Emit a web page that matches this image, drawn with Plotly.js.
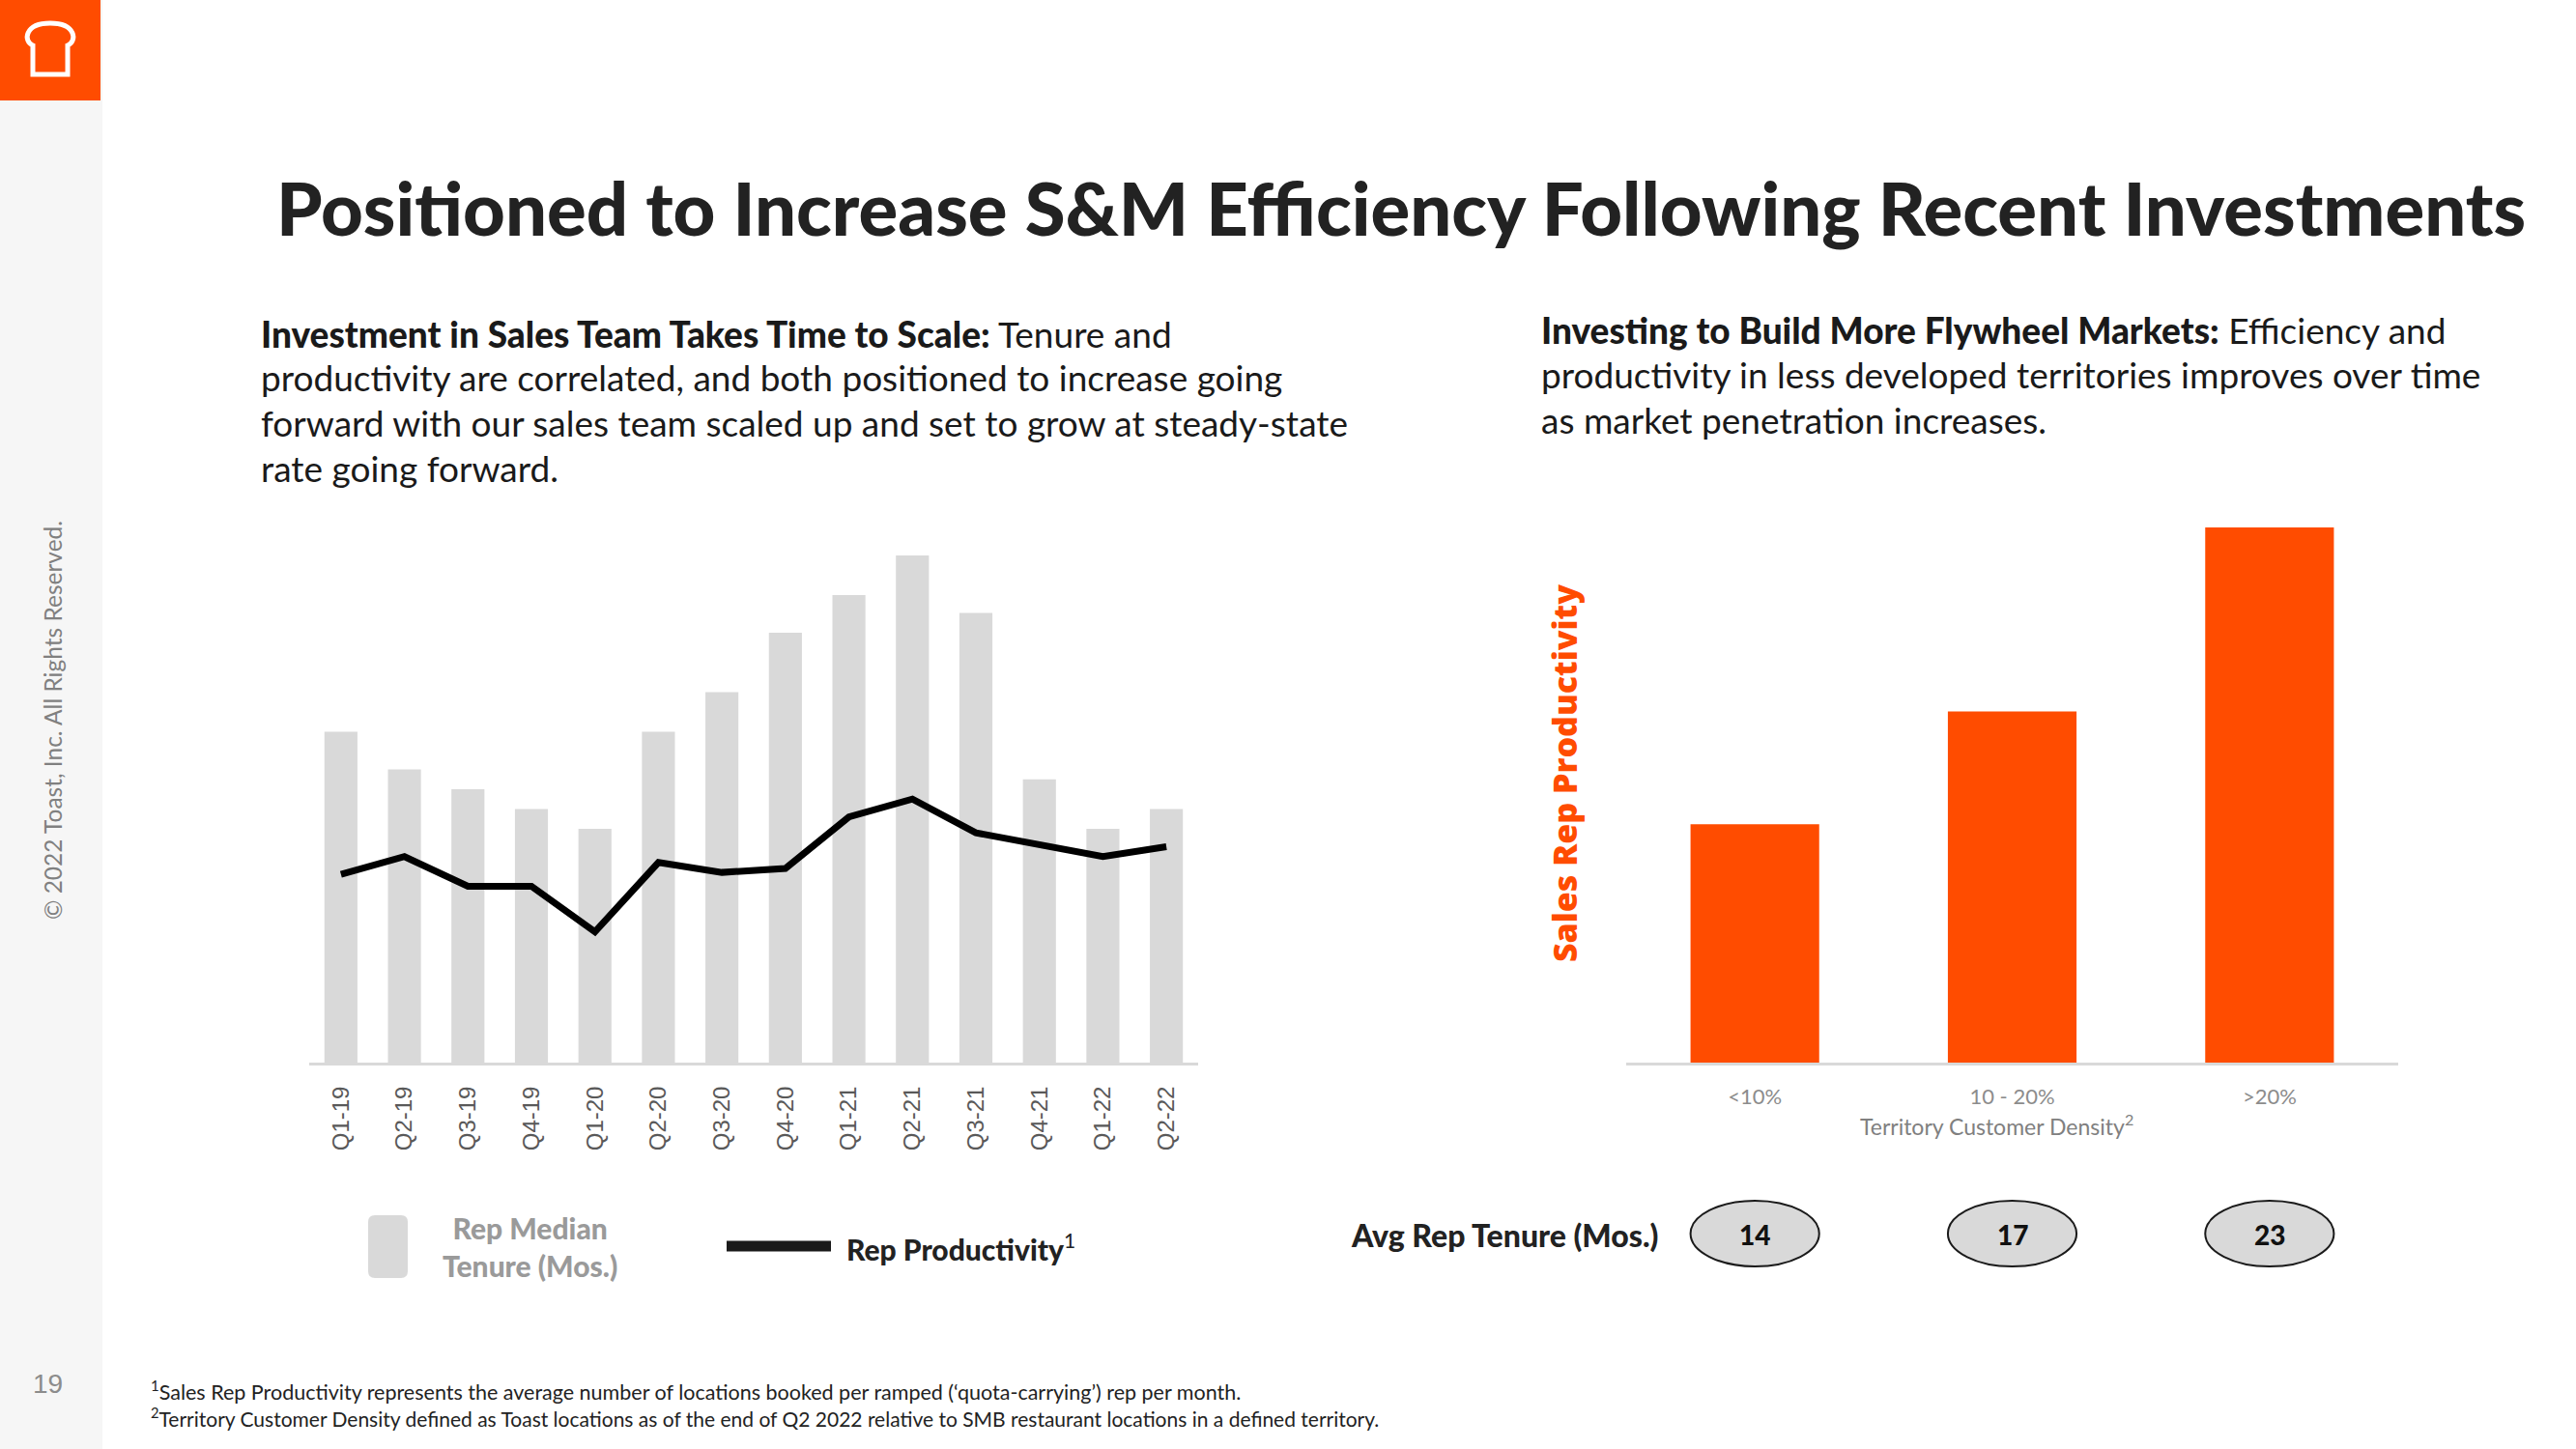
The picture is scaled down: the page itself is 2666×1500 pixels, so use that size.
<!DOCTYPE html>
<html>
<head>
<meta charset="utf-8">
<script src="https://cdn.plot.ly/plotly-3.0.1.min.js"></script>
<style>
  html, body { margin: 0; padding: 0; background: #ffffff; }
  #chart { width: 2666px; height: 1500px; }
</style>
</head>
<body>
<div id="chart"></div>
<script>
// ---------------- DATA ----------------
const quarters = ['Q1-19','Q2-19','Q3-19','Q4-19','Q1-20','Q2-20','Q3-20','Q4-20','Q1-21','Q2-21','Q3-21','Q4-21','Q1-22','Q2-22'];
const repMedianTenure = [16.7, 14.8, 13.8, 12.8, 11.8, 16.7, 18.7, 21.7, 23.6, 25.6, 22.7, 14.3, 11.8, 12.8];
const repProductivity = [9.5, 10.4, 8.9, 8.9, 6.6, 10.1, 9.6, 9.8, 12.4, 13.3, 11.6, 11.0, 10.4, 10.9];

const densityBands = ['<10%', '10 - 20%', '>20%'];
const salesRepProductivity = [5.7, 8.4, 12.8];
const avgRepTenure = [14, 17, 23];

// ---------------- HELPERS ----------------
const W = 2666, H = 1500;
const px = x => x / W;
const py = y => 1 - y / H;
const ORANGE = '#FF4C00';
const BODY = 'Lato, "Noto Sans", sans-serif';
const heavy = t => '<span style="font-weight:900">' + t + '</span>';

function roundRectPath(x0, y0, x1, y1, r) {
  const p = (x, y) => px(x).toFixed(5) + ',' + py(y).toFixed(5);
  return 'M' + p(x0 + r, y0) + ' L' + p(x1 - r, y0) + ' Q' + p(x1, y0) + ' ' + p(x1, y0 + r) +
         ' L' + p(x1, y1 - r) + ' Q' + p(x1, y1) + ' ' + p(x1 - r, y1) +
         ' L' + p(x0 + r, y1) + ' Q' + p(x0, y1) + ' ' + p(x0, y1 - r) +
         ' L' + p(x0, y0 + r) + ' Q' + p(x0, y0) + ' ' + p(x0 + r, y0) + ' Z';
}
function toastPath() {
  const p = (x, y) => px(x).toFixed(5) + ',' + py(y).toFixed(5);
  return 'M' + p(34, 77) + ' L' + p(34, 47) +
         ' C' + p(24, 43) + ' ' + p(25, 24) + ' ' + p(52, 24) +
         ' C' + p(79, 24) + ' ' + p(80, 43) + ' ' + p(70, 47) +
         ' L' + p(70, 77) + ' Z';
}

// ---------------- TRACES ----------------
const traces = [
  {
    type: 'bar', x: quarters, y: repMedianTenure, xaxis: 'x', yaxis: 'y', width: 0.52,
    marker: { color: '#D9D9D9' }, name: 'Rep Median Tenure (Mos.)', hoverinfo: 'skip'
  },
  {
    type: 'scatter', mode: 'lines', x: quarters, y: repProductivity, xaxis: 'x', yaxis: 'y',
    line: { color: '#000000', width: 7 }, name: 'Rep Productivity', hoverinfo: 'skip'
  },
  {
    type: 'bar', x: densityBands, y: salesRepProductivity, xaxis: 'x2', yaxis: 'y2', width: 0.5,
    marker: { color: ORANGE }, name: 'Sales Rep Productivity', hoverinfo: 'skip'
  }
];

// ---------------- LAYOUT ----------------
const shapes = [
  { type: 'rect', xref: 'paper', yref: 'paper', x0: 0, x1: px(106), y0: 0, y1: 1, fillcolor: '#F6F6F6', line: { width: 0 }, layer: 'below' },
  { type: 'rect', xref: 'paper', yref: 'paper', x0: 0, x1: px(104), y0: py(104), y1: 1, fillcolor: ORANGE, line: { width: 0 } },
  { type: 'path', xref: 'paper', yref: 'paper', path: toastPath(), fillcolor: 'rgba(0,0,0,0)', line: { color: '#FFFFFF', width: 5 } },
  { type: 'path', xref: 'paper', yref: 'paper', path: roundRectPath(381, 1258, 422, 1323, 7), fillcolor: '#D9D9D9', line: { width: 0 } },
  { type: 'line', xref: 'paper', yref: 'paper', x0: px(752), x1: px(860), y0: py(1290), y1: py(1290), line: { color: '#1a1a1a', width: 11 } }
];

avgRepTenure.forEach((v, i) => {
  shapes.push({
    type: 'circle', xref: 'x2', yref: 'paper',
    x0: i - 0.25, x1: i + 0.25, y0: py(1311), y1: py(1243),
    fillcolor: '#D9D9D9', line: { color: '#1a1a1a', width: 2 }
  });
});

const leftLines = [
  heavy('Investment in Sales Team Takes Time to Scale:') + ' Tenure and',
  'productivity are correlated, and both positioned to increase going',
  'forward with our sales team scaled up and set to grow at steady-state',
  'rate going forward.'
];
const leftLineY = [345, 391, 437, 484];
const rightLines = [
  heavy('Investing to Build More Flywheel Markets:') + ' Efficiency and',
  'productivity in less developed territories improves over time',
  'as market penetration increases.'
];
const rightLineY = [342, 388, 434];

const annotations = [
  { text: 'Positioned to Increase S&M Efficiency Following Recent Investments', xref: 'paper', yref: 'paper',
    x: px(284), y: py(214), xanchor: 'left', yanchor: 'middle', showarrow: false,
    font: { family: BODY, size: 76, color: '#222222', weight: 900 } },
  { text: 'Rep Median<br>Tenure (Mos.)', xref: 'paper', yref: 'paper', x: px(548), y: py(1290),
    xanchor: 'center', yanchor: 'middle', align: 'center', showarrow: false,
    font: { family: BODY, size: 30, color: '#9A9A9A', weight: 900 } },
  { text: heavy('Rep Productivity') + '<sup>1</sup>', xref: 'paper', yref: 'paper', x: px(874), y: py(1291),
    xanchor: 'left', yanchor: 'middle', showarrow: false,
    font: { family: BODY, size: 30, color: '#222222' } },
  { text: 'Sales Rep Productivity', xref: 'paper', yref: 'paper', x: px(1619), y: py(801),
    xanchor: 'center', yanchor: 'middle', textangle: -90, showarrow: false,
    font: { family: '"Open Sans", sans-serif', size: 34, color: ORANGE, weight: 800 } },
  { text: 'Territory Customer Density<sup>2</sup>', xref: 'paper', yref: 'paper', x: px(2066), y: py(1164),
    xanchor: 'center', yanchor: 'middle', showarrow: false,
    font: { family: BODY, size: 23, color: '#808080' } },
  { text: 'Avg Rep Tenure (Mos.)', xref: 'paper', yref: 'paper', x: px(1718), y: py(1278),
    xanchor: 'right', yanchor: 'middle', showarrow: false,
    font: { family: BODY, size: 32, color: '#222222', weight: 900 } },
  { text: '<sup>1</sup>Sales Rep Productivity represents the average number of locations booked per ramped (‘quota-carrying’) rep per month.',
    xref: 'paper', yref: 'paper', x: px(154), y: py(1439), xanchor: 'left', yanchor: 'middle', showarrow: false,
    font: { family: BODY, size: 21.5, color: '#222222' } },
  { text: '<sup>2</sup>Territory Customer Density defined as Toast locations as of the end of Q2 2022 relative to SMB restaurant locations in a defined territory.',
    xref: 'paper', yref: 'paper', x: px(154), y: py(1467), xanchor: 'left', yanchor: 'middle', showarrow: false,
    font: { family: BODY, size: 21, color: '#222222' } },
  { text: '© 2022 Toast, Inc. All Rights Reserved.', xref: 'paper', yref: 'paper', x: px(54), y: py(746),
    xanchor: 'center', yanchor: 'middle', textangle: -90, showarrow: false,
    font: { family: BODY, size: 24.5, color: '#808080' } },
  { text: '19', xref: 'paper', yref: 'paper', x: px(49), y: py(1432),
    xanchor: 'center', yanchor: 'middle', showarrow: false,
    font: { family: '"Liberation Sans", Arial, sans-serif', size: 28, color: '#8C8C8C' } }
];

leftLines.forEach((t, i) => annotations.push({
  text: t, xref: 'paper', yref: 'paper', x: px(268), y: py(leftLineY[i]), xanchor: 'left', yanchor: 'middle',
  align: 'left', showarrow: false, font: { family: BODY, size: 37, color: '#1a1a1a' }
}));
rightLines.forEach((t, i) => annotations.push({
  text: t, xref: 'paper', yref: 'paper', x: px(1593), y: py(rightLineY[i]), xanchor: 'left', yanchor: 'middle',
  align: 'left', showarrow: false, font: { family: BODY, size: 37, color: '#1a1a1a' }
}));

avgRepTenure.forEach((v, i) => {
  annotations.push({
    text: String(v), xref: 'x2', yref: 'paper', x: densityBands[i], y: py(1278),
    xanchor: 'center', yanchor: 'middle', showarrow: false,
    font: { family: BODY, size: 28, color: '#111111', weight: 900 }
  });
});

const layout = {
  width: W, height: H,
  margin: { l: 0, r: 0, t: 0, b: 0, pad: 0 },
  paper_bgcolor: '#FFFFFF', plot_bgcolor: 'rgba(0,0,0,0)',
  showlegend: false,
  font: { family: BODY },
  xaxis: {
    domain: [px(320), px(1240)], anchor: 'y', type: 'category',
    showline: true, linecolor: '#D9D9D9', linewidth: 3,
    showgrid: false, zeroline: false, ticks: '',
    tickangle: -90, ticklabelstandoff: 12,
    tickfont: { family: '"Liberation Sans", Arial, sans-serif', size: 24, color: '#595959' }
  },
  yaxis: {
    domain: [py(1100), py(560)], anchor: 'x', range: [0, 26.33],
    visible: false, showgrid: false, zeroline: false
  },
  xaxis2: {
    domain: [px(1683), px(2482)], anchor: 'y2', type: 'category',
    showline: true, linecolor: '#D9D9D9', linewidth: 3,
    showgrid: false, zeroline: false, ticks: '', ticklabelstandoff: 14,
    tickfont: { family: BODY, size: 22, color: '#8C8C8C' }
  },
  yaxis2: {
    domain: [py(1100), py(520)], anchor: 'x2', range: [0, 13.4],
    visible: false, showgrid: false, zeroline: false
  },
  shapes: shapes,
  annotations: annotations
};

Plotly.newPlot('chart', traces, layout, { staticPlot: true, displayModeBar: false });
</script>
</body>
</html>
